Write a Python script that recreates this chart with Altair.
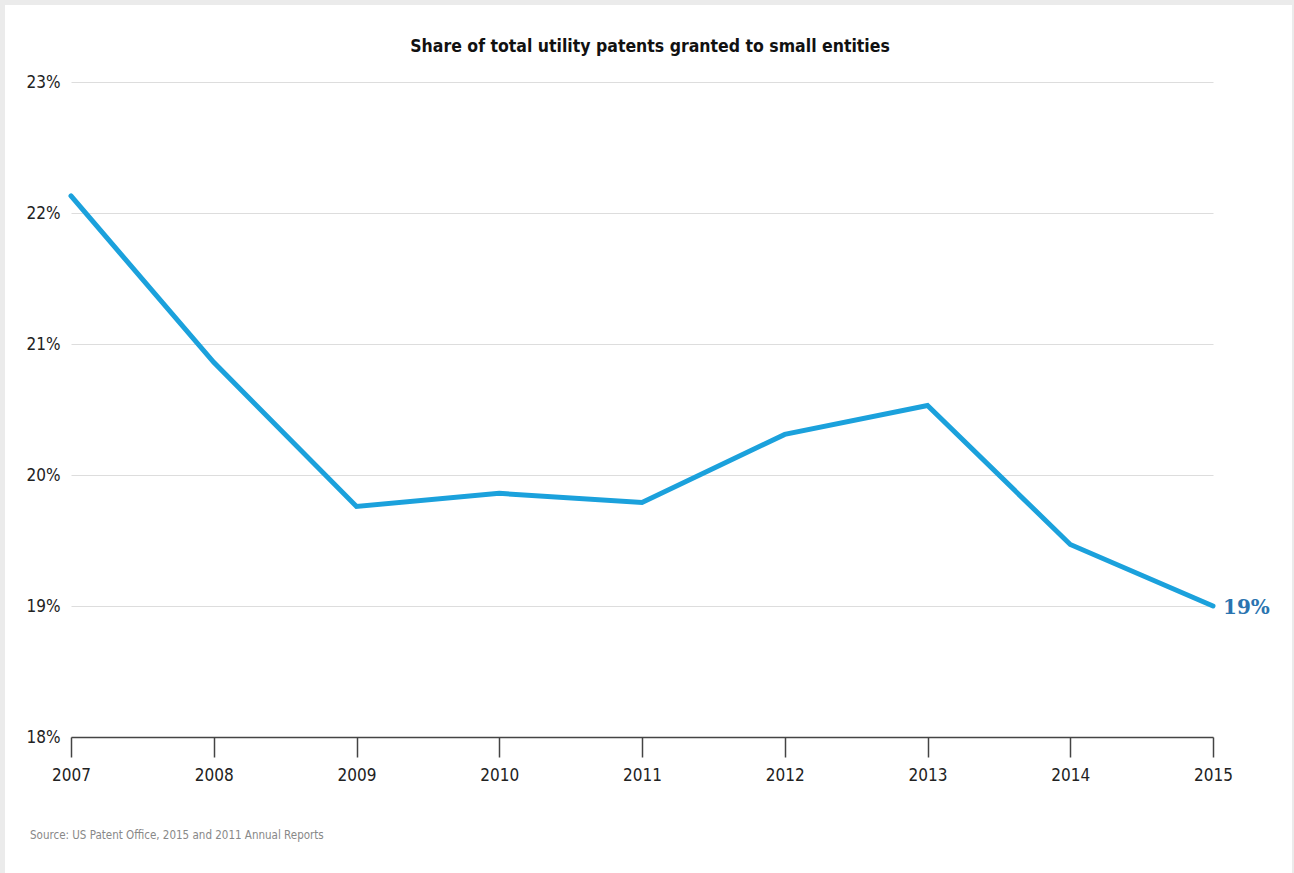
import altair as alt
import pandas as pd

years = [2007, 2008, 2009, 2010, 2011, 2012, 2013, 2014, 2015]
share = [22.13, 20.86, 19.76, 19.86, 19.79, 20.31, 20.53, 19.47, 19.0]
y_ticks = [18, 19, 20, 21, 22, 23]
end_label = ["19%"]
title_text = ["Share of total utility patents granted to small entities"]
source_text = ["Source: US Patent Office, 2015 and 2011 Annual Reports"]

df = pd.DataFrame({"year": years, "share": share})
last = pd.DataFrame({"year": [years[-1]], "share": [share[-1]], "label": end_label})

W, H = 1142, 655
FONT = "DejaVu Sans Condensed, Roboto Condensed, Arial Narrow, Roboto, sans-serif"

one = pd.DataFrame({"a": [0]})
border_top = alt.Chart(one).mark_rect(fill="#ebebeb").encode(
    x=alt.value(-71), x2=alt.value(1223), y=alt.value(-82), y2=alt.value(-77))
border_left = alt.Chart(one).mark_rect(fill="#ebebeb").encode(
    x=alt.value(-71), x2=alt.value(-66), y=alt.value(-82), y2=alt.value(791))
border_right = alt.Chart(one).mark_rect(fill="#ebebeb").encode(
    x=alt.value(1221), x2=alt.value(1223), y=alt.value(-82), y2=alt.value(791))

line = alt.Chart(df).mark_line(color="#1ba1dc", strokeWidth=5, strokeCap="round").encode(
    x=alt.X("year:Q", scale=alt.Scale(domain=[2007, 2015], nice=False, zero=False),
            axis=alt.Axis(values=years, format="d", title=None, grid=False, labelFlush=False,
                          domainColor="#444", domainWidth=1.5, tickColor="#444", tickWidth=1.5, tickSize=20,
                          labelFontSize=17, labelFontWeight="normal", labelColor="#222", labelPadding=10,
                          labelFont=FONT)),
    y=alt.Y("share:Q", scale=alt.Scale(domain=[18, 23], nice=False, zero=False),
            axis=alt.Axis(values=y_ticks, labelExpr="datum.value + '%'", title=None, domain=False, ticks=False,
                          gridColor="#dddddd", gridWidth=1, labelFontSize=17, labelColor="#222", labelPadding=11,
                          labelFont=FONT)),
)

lbl = alt.Chart(last).mark_text(align="left", baseline="middle", dx=10, dy=2, font="DejaVu Serif",
                                fontWeight="bold", fontSize=20, color="#2a74b0").encode(
    x="year:Q", y="share:Q", text="label:N"
)

title = alt.Chart(pd.DataFrame({"t": title_text})).mark_text(
    align="center", baseline="middle", font=FONT, fontSize=17.5, fontWeight="bold", color="#111111"
).encode(x=alt.value(579), y=alt.value(-35), text="t:N")

source = alt.Chart(pd.DataFrame({"t": source_text})).mark_text(
    align="left", baseline="middle", font=FONT, fontSize=11.5, color="#888888"
).encode(x=alt.value(-41), y=alt.value(754), text="t:N")

chart = alt.layer(border_top, border_left, border_right, line, lbl, title, source).properties(
    width=W, height=H,
    background="white",
    padding={"left": 71, "top": 82, "right": 81, "bottom": 136},
    autosize=alt.AutoSizeParams(type="none"),
).configure_view(stroke=None)

chart.save("out.html", embed_options={"renderer": "svg", "actions": False})
